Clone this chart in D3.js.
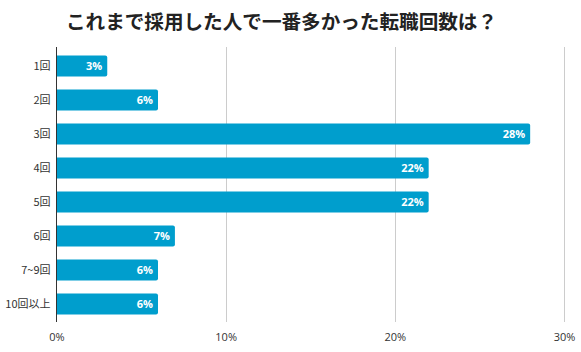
<!DOCTYPE html>
<html><head><meta charset="utf-8">
<script src="https://cdn.jsdelivr.net/npm/d3@7"></script>
<style>
html,body{margin:0;padding:0;background:#fff;}
svg{display:block;font-family:"Noto Sans CJK JP","Noto Sans",sans-serif;}
</style></head>
<body>
<svg id="chart" width="581" height="352"></svg>
<script>
const title = "これまで採用した人で一番多かった転職回数は？";
const categories = ["1回","2回","3回","4回","5回","6回","7~9回","10回以上"];
const values = [3, 6, 28, 22, 22, 7, 6, 6];
const tickValues = [0, 10, 20, 30];

const svg = d3.select("#chart");
const margin = {left: 56.5, right: 17, top: 49, bottom: 31};
const W = 581, H = 352;

const x = d3.scaleLinear().domain([0, 30]).range([margin.left, W - margin.right]);
const y = d3.scaleBand().domain(categories).range([margin.top, H - margin.bottom]).paddingInner(0.38).paddingOuter(0.19);

svg.append("text").attr("x", 281.5).attr("y", 29).attr("text-anchor", "middle")
  .attr("font-size", 19.6).attr("font-weight", "bold").attr("fill", "#222").text(title);

// grid
svg.append("g").selectAll("line").data(tickValues.filter(d => d > 0)).join("line")
  .attr("x1", d => Math.round(x(d)) + 0.5).attr("x2", d => Math.round(x(d)) + 0.5)
  .attr("y1", margin.top - 2).attr("y2", H - margin.bottom + 1)
  .attr("stroke", "#cccccc").attr("stroke-width", 1);

// bars with rounded right end
const r = 2;
svg.append("g").selectAll("path").data(values).join("path")
  .attr("fill", "#009ecd")
  .attr("d", (d, i) => {
    const x0 = x(0), x1 = x(d), y0 = y(categories[i]), h = y.bandwidth();
    return `M${x0},${y0}H${x1 - r}Q${x1},${y0} ${x1},${y0 + r}V${y0 + h - r}Q${x1},${y0 + h} ${x1 - r},${y0 + h}H${x0}Z`;
  });

// value labels
svg.append("g").selectAll("text").data(values).join("text")
  .attr("x", d => x(d) - 5)
  .attr("y", (d, i) => y(categories[i]) + y.bandwidth() / 2)
  .attr("dy", "0.36em").attr("text-anchor", "end")
  .attr("font-size", 11).attr("font-weight", "bold").attr("fill", "#fff")
  .attr("font-family", "'Open Sans','Noto Sans',sans-serif")
  .text(d => d + "%");

// y axis
const yAxis = d3.axisLeft(y).tickSize(0).tickPadding(6);
const gy = svg.append("g").attr("transform", `translate(${margin.left},0)`).call(yAxis);
gy.select(".domain").remove();
gy.selectAll("text").attr("font-size", 11).attr("fill", "#333")
  .attr("font-family", "'Noto Sans CJK JP',sans-serif");
svg.append("line").attr("x1", margin.left).attr("x2", margin.left)
  .attr("y1", margin.top - 2).attr("y2", H - margin.bottom + 1)
  .attr("stroke", "#333").attr("stroke-width", 1);

// x axis labels
const xAxis = d3.axisBottom(x).tickValues(tickValues).tickSize(0).tickPadding(12).tickFormat(d => d + "%");
const gx = svg.append("g").attr("transform", `translate(0,${H - margin.bottom})`).call(xAxis);
gx.select(".domain").remove();
gx.selectAll("text").attr("font-size", 11).attr("fill", "#333")
  .attr("font-family", "'Open Sans','Noto Sans',sans-serif");
</script>
</body></html>
